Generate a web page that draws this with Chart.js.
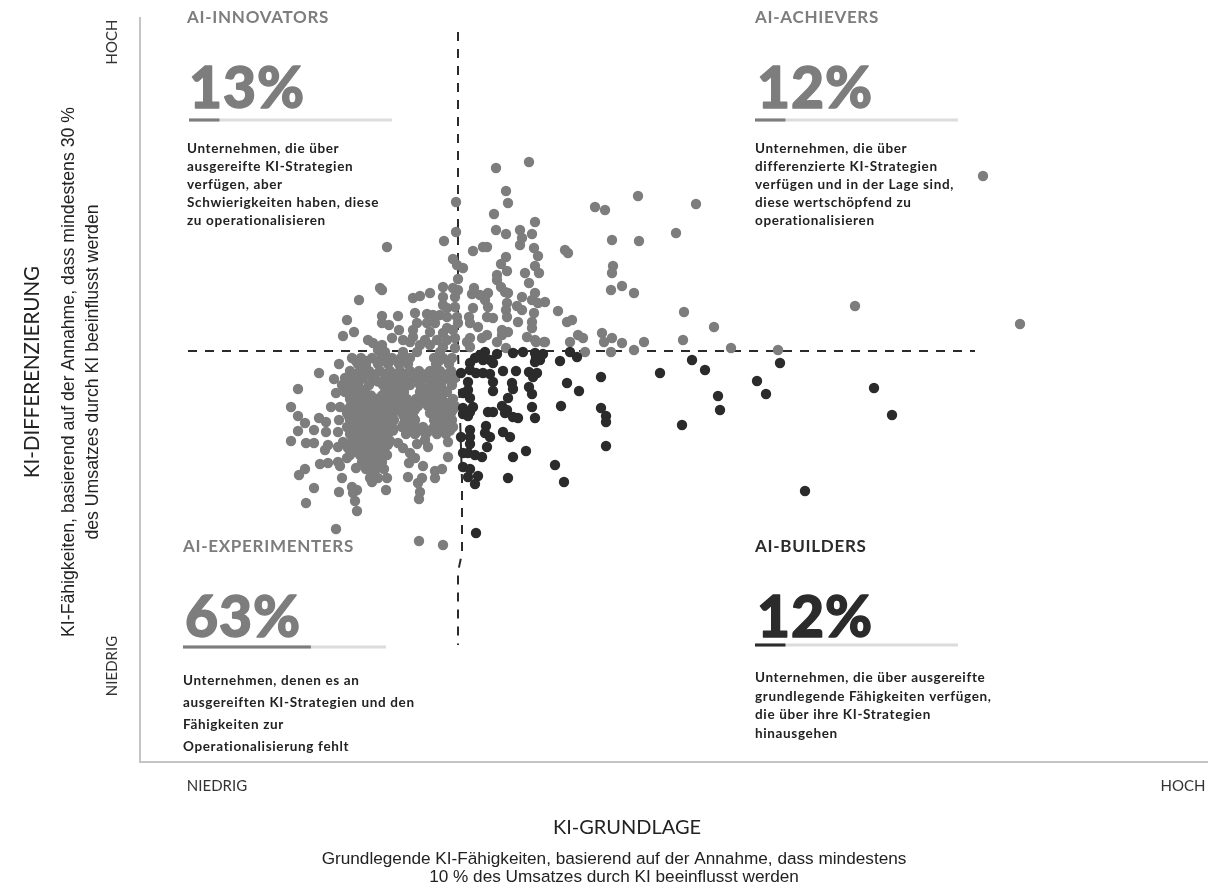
<!DOCTYPE html>
<html lang="de">
<head>
  <meta charset="UTF-8">
  <title>KI-Grundlage und KI-Differenzierung</title>
  <script src="https://cdn.jsdelivr.net/npm/chart.js"></script>
  <style>
    html, body { margin: 0; padding: 0; background: #fff; }
    canvas { display: block; filter: blur(0.4px); }
  </style>
</head>
<body>
  <canvas id="matrix" width="1228" height="889"></canvas>

  <script>
    // values: [KI-Grundlage, KI-Differenzierung]
    const innovators = [
      [31.6,56.0],[31.6,53.0],[30.4,52.1],[24.7,51.5],[24.2,47.2],[24.0,47.4],[21.9,46.2],[20.7,44.2],[21.4,43.0],[20.3,42.6],
      [29.0,46.9],[28.0,46.6],[27.3,46.4],[31.3,50.3],[31.7,49.7],[31.8,48.3],[30.3,47.5],[31.3,47.4],[31.8,47.2],[30.3,46.5],
      [30.3,45.7],[31.5,46.5],[31.5,45.5],[30.7,45.4],[25.8,44.6],[24.2,44.6],[24.2,43.9],[24.9,43.7],[25.9,43.2],[25.2,42.4],
      [27.5,44.9],[28.7,44.8],[29.3,44.7],[30.0,44.7],[30.7,44.5],[31.7,44.5],[31.8,43.9],[27.7,43.9],[28.7,43.9],[29.5,43.9],
      [30.7,43.4],[31.3,43.2],[27.3,43.2],[29.0,43.0],[30.3,42.9],[27.3,42.5],[26.3,42.2],[27.0,42.0],[28.5,42.2],[29.7,42.2],
      [30.7,42.2],[31.5,42.4],[22.8,42.2],[23.3,41.9],[24.2,41.7],[28.0,41.7],[29.0,41.7],[30.3,41.5],[31.5,41.4],[23.8,41.2],
      [24.5,41.0],[26.3,41.0],[27.7,41.0],[30.0,41.0]
    ];
    const achievers = [
      [35.6,59.4],[38.9,60.0],[36.6,57.1],[36.8,55.9],[35.4,54.8],[39.5,54.0],[35.6,53.2],[36.6,52.8],[38.0,53.2],[38.2,52.4],
      [38.0,51.7],[39.2,52.8],[33.3,51.1],[34.3,51.5],[34.7,51.5],[39.4,51.4],[39.8,50.6],[42.5,51.2],[42.8,50.9],[36.6,50.5],
      [36.1,49.8],[36.7,49.1],[35.7,48.7],[39.5,49.6],[39.9,48.9],[38.5,48.9],[38.9,47.9],[35.7,48.2],[36.1,47.5],[36.5,47.0],
      [36.8,46.9],[33.4,47.4],[33.2,46.8],[34.8,46.9],[34.0,46.7],[34.5,46.2],[34.8,45.5],[38.2,46.5],[39.5,46.9],[39.2,46.2],
      [39.8,45.9],[40.5,46.0],[36.7,45.9],[36.6,45.2],[37.7,45.6],[38.2,45.2],[33.3,45.4],[32.9,44.5],[33.0,43.9],[33.8,43.5],
      [34.7,44.5],[35.3,44.4],[36.7,44.5],[39.4,44.9],[39.2,44.0],[37.8,44.0],[41.8,45.1],[42.7,44.0],[39.2,43.4],[38.7,42.5],
      [39.5,42.2],[40.4,42.0],[36.2,43.2],[36.8,43.0],[36.2,42.7],[34.7,42.7],[34.2,42.4],[35.7,42.0],[33.0,42.4],[32.7,42.0],
      [33.0,41.5],[36.6,41.4],[45.5,55.5],[46.5,55.2],[47.2,52.2],[49.8,56.6],[49.9,52.1],[55.6,55.8],[53.6,52.9],[47.3,49.6],
      [47.2,48.9],[48.2,47.6],[49.4,46.9],[47.1,47.2],[54.4,45.0],[57.4,43.5],[54.3,42.2],[71.5,45.6],[84.3,58.6],[88.0,43.8],
      [59.1,41.4],[63.8,41.2],[46.2,42.9],[47.2,42.4],[48.2,41.9],[49.4,41.2],[46.4,42.0],[50.4,42.0],[47.1,41.0],[44.5,41.0],
      [39.6,42.0],[40.5,42.0],[43.0,42.0],[43.8,42.7],[43.2,44.2],[44.3,42.4],[32.3,49.4]
    ];
    const experimenters = [
      [19.9,39.8],[17.9,38.9],[15.8,37.3],[15.1,35.5],[15.8,34.6],[16.5,33.9],[15.8,33.1],[15.1,32.1],[16.6,31.9],[17.4,31.9],
      [17.4,33.2],[17.9,34.4],[18.6,34.0],[18.6,33.0],[19.4,38.3],[20.2,37.7],[19.6,36.9],[19.1,35.5],[20.0,35.5],[21.0,35.5],
      [19.9,34.2],[19.8,33.0],[18.8,31.7],[18.5,31.2],[19.8,31.5],[20.3,32.0],[18.0,29.8],[18.8,29.9],[19.8,30.0],[20.0,29.6],
      [16.5,29.3],[15.9,28.7],[20.7,30.4],[21.6,29.4],[20.2,28.4],[17.4,27.4],[19.9,27.0],[16.6,25.9],[21.2,27.5],[21.7,27.2],
      [21.3,26.9],[21.5,26.1],[21.7,25.1],[19.6,23.3],[24.6,27.2],[23.0,28.4],[23.2,28.0],[23.8,28.4],[24.7,28.4],[27.9,22.1],
      [30.3,21.7],[27.9,26.3],[28.0,27.0],[27.8,27.9],[28.2,28.4],[26.8,28.5],[29.5,28.4],[29.5,29.1],[30.2,29.3],[30.8,30.5],
      [28.3,29.6],[26.9,29.9],[27.5,30.4],[27.0,30.9],[26.3,31.4],[25.8,31.9],[27.7,31.8],[28.8,31.5],[28.5,32.2],[30.8,32.0],
      [21.2,40.4],[22.1,40.4],[23.2,40.4],[24.1,40.4],[25.2,40.4],[26.1,40.4],[27.0,40.4],[29.4,40.4],[30.3,40.4],[31.2,40.4],
      [21.8,39.8],[22.6,39.8],[23.8,39.8],[24.8,39.8],[25.9,39.8],[26.8,39.8],[29.6,39.8],[30.9,39.8],
      [21.0,39.1],[22.0,39.1],[22.9,39.1],[24.0,39.1],[25.0,39.1],[26.0,39.1],[27.0,39.1],[27.9,39.1],[29.0,39.1],[30.0,39.1],[31.1,39.1],
      [20.5,38.4],[21.4,38.4],[22.3,38.4],[23.3,38.4],[24.6,38.4],[25.6,38.4],[26.5,38.4],[27.6,38.4],[28.6,38.4],[29.6,38.4],[30.6,38.4],[31.5,38.4],
      [21.0,37.7],[21.8,37.7],[22.9,37.7],[24.3,37.7],[25.2,37.7],[26.2,37.7],[27.0,37.7],[28.0,37.7],[29.1,37.7],[30.1,37.7],[31.2,37.7],
      [20.5,37.0],[21.6,37.0],[22.5,37.0],[24.5,37.0],[25.4,37.0],[26.4,37.0],[28.0,37.0],[28.9,37.0],[29.7,37.0],[30.7,37.0],
      [21.0,36.3],[21.9,36.3],[22.8,36.3],[23.6,36.3],[24.7,36.3],[25.7,36.3],[26.7,36.3],[27.6,36.3],[28.5,36.3],[29.3,36.3],[30.2,36.3],[31.3,36.3],
      [21.5,35.6],[22.3,35.6],[23.2,35.6],[24.1,35.6],[25.0,35.6],[26.0,35.6],[27.0,35.6],[27.8,35.6],[28.8,35.6],[29.7,35.6],[30.7,35.6],[31.5,35.6],
      [20.7,34.9],[21.6,34.9],[22.5,34.9],[23.5,34.9],[24.4,34.9],[25.3,34.9],[26.2,34.9],[27.1,34.9],[29.0,34.9],[30.0,34.9],[31.1,34.9],
      [21.0,34.2],[22.0,34.2],[22.9,34.2],[23.8,34.2],[24.7,34.2],[25.4,34.2],[26.6,34.2],[27.5,34.2],[29.4,34.2],[30.3,34.2],[31.2,34.2],
      [20.7,33.5],[21.6,33.5],[22.5,33.5],[23.4,33.5],[24.3,33.5],[25.2,33.5],[26.2,33.5],[27.2,33.5],[28.3,33.5],[29.4,33.5],[30.4,33.5],[31.3,33.5],
      [21.0,32.8],[22.0,32.8],[22.9,32.8],[23.9,32.8],[24.8,32.8],[26.6,32.8],[27.5,32.8],[28.6,32.8],[29.7,32.8],[30.6,32.8],
      [21.2,32.1],[22.2,32.1],[23.1,32.1],[24.1,32.1],[25.0,32.1],[20.8,31.4],[21.7,31.4],[22.7,31.4],[23.6,31.4],[24.5,31.4],
      [21.0,30.7],[22.0,30.7],[23.0,30.7],[24.0,30.7],[24.7,30.7],[22.2,30.0],[23.2,30.0],[24.2,30.0],[22.6,29.3],[23.6,29.3],[24.4,29.3],
      [21.6,40.1],[22.6,40.1],[23.7,40.1],[24.6,40.1],[25.7,40.1],[26.6,40.1],[29.9,40.1],[30.8,40.1],
      [21.5,38.75],[22.4,38.75],[23.5,38.75],[24.5,38.75],[25.5,38.75],[26.5,38.75],[27.5,38.75],[28.5,38.75],[29.5,38.75],[30.5,38.75],
      [20.9,38.05],[21.9,38.05],[23.8,38.05],[25.0,38.05],[26.0,38.05],[27.0,38.05],[28.1,38.05],[29.1,38.05],[30.1,38.05],[31.1,38.05],
      [21.1,37.35],[22.0,37.35],[24.9,37.35],[25.9,37.35],[28.4,37.35],[29.3,37.35],[30.2,37.35],
      [21.3,36.65],[22.2,36.65],[23.1,36.65],[24.2,36.65],[25.2,36.65],[26.2,36.65],[28.2,36.65],[29.1,36.65],[30.0,36.65],
      [21.4,35.95],[22.3,35.95],[23.2,35.95],[24.2,35.95],[25.2,35.95],[26.2,35.95],[27.3,35.95],[28.1,35.95],[29.0,35.95],[30.0,35.95],[31.0,35.95],
      [21.1,35.25],[22.0,35.25],[23.0,35.25],[23.9,35.25],[24.8,35.25],[25.7,35.25],[26.6,35.25],[27.5,35.25],[29.3,35.25],[30.3,35.25],[31.3,35.25],
      [20.9,34.55],[21.8,34.55],[22.7,34.55],[23.7,34.55],[24.6,34.55],[26.4,34.55],[27.3,34.55],[29.7,34.55],[30.7,34.55],
      [21.3,33.85],[22.2,33.85],[23.1,33.85],[24.0,33.85],[25.0,33.85],[26.4,33.85],[27.4,33.85],[29.7,33.85],[30.8,33.85],
      [21.4,33.15],[22.4,33.15],[23.3,33.15],[24.3,33.15],[25.3,33.15],[26.9,33.15],[28.0,33.15],[29.0,33.15],[30.0,33.15],[31.0,33.15],
      [21.5,32.45],[22.5,32.45],[23.5,32.45],[24.5,32.45],[21.0,31.75],[22.1,31.75],[23.0,31.75],[24.0,31.75],[24.8,31.75],
      [21.3,31.05],[22.3,31.05],[23.3,31.05],[24.2,31.05],[22.6,30.35],[23.6,30.35],[22.9,29.65],[23.9,29.65],[23.3,28.95]
    ];
    const builders = [
      [34.5,41.0],[34.0,40.7],[35.7,40.8],[37.3,40.9],[38.3,41.0],[39.5,40.9],[40.3,40.8],[39.6,40.4],[40.0,40.2],[39.5,40.0],
      [43.0,41.0],[43.7,40.5],[42.0,40.1],[33.0,39.9],[35.0,40.2],[35.3,39.9],[34.3,40.2],[33.5,40.4],[33.0,39.2],[33.6,38.9],
      [34.3,38.9],[35.0,38.8],[32.1,38.9],[36.3,39.1],[37.6,39.1],[38.9,39.0],[39.7,38.9],[39.3,38.5],[42.7,37.9],[43.9,37.1],
      [46.1,38.5],[35.3,38.0],[35.3,37.1],[37.2,37.9],[37.3,37.3],[38.9,37.5],[39.2,36.8],[32.8,38.0],[32.8,37.2],[32.3,36.9],
      [33.0,36.4],[36.8,36.4],[36.2,35.6],[36.7,35.2],[36.5,34.9],[37.3,34.5],[37.8,34.4],[34.8,35.0],[35.3,35.0],[33.3,35.5],
      [32.3,35.4],[33.0,35.0],[32.3,34.8],[32.8,34.6],[39.2,35.5],[39.5,34.4],[42.1,35.6],[46.1,35.4],[46.6,34.6],[46.6,34.0],
      [46.6,31.6],[34.6,33.6],[34.5,32.9],[35.0,32.5],[36.3,33.0],[37.0,32.5],[33.0,33.2],[33.0,32.5],[32.1,32.5],[33.0,31.8],
      [34.7,31.5],[38.6,31.1],[37.3,30.5],[32.8,30.9],[33.5,30.7],[34.2,30.5],[32.3,30.9],[32.3,29.5],[33.0,29.3],[33.8,28.6],
      [32.8,28.5],[33.5,27.8],[36.8,28.4],[41.5,29.7],[42.4,28.0],[33.6,22.9],[52.0,38.9],[55.2,40.2],[56.5,39.2],[57.8,36.6],
      [58.0,35.2],[54.2,33.7],[61.7,38.1],[62.6,36.8],[64.0,39.9],[73.4,37.4],[75.2,34.7],[66.5,27.1]
    ];

    // the two dashed quadrant dividers
    const splitX = [4.8, 83.5];
    const splitY = [41.1, 41.1];
    const divideX = [31.8, 31.8, 32.2, 32.2, 31.8, 31.8];
    const divideY = [73.0, 41.1, 28.2, 20.9, 19.0, 11.7];

    const xTickValues = [7.7, 104.3];
    const xTickLabels = ["NIEDRIG", "HOCH"];
    const yTickValues = [9.6, 72.0];
    const yTickLabels = ["NIEDRIG", "HOCH"];

    const cardNames = ["AI-INNOVATORS", "AI-ACHIEVERS", "AI-EXPERIMENTERS", "AI-BUILDERS"];
    const cardShares = ["13%", "12%", "63%", "12%"];
    const cardBars = [15, 15, 63, 15];
    const cardTexts = [
      ["Unternehmen, die über", "ausgereifte KI-Strategien", "verfügen, aber", "Schwierigkeiten haben, diese", "zu operationalisieren"],
      ["Unternehmen, die über", "differenzierte KI-Strategien", "verfügen und in der Lage sind,", "diese wertschöpfend zu", "operationalisieren"],
      ["Unternehmen, denen es an", "ausgereiften KI-Strategien und den", "Fähigkeiten zur", "Operationalisierung fehlt"],
      ["Unternehmen, die über ausgereifte", "grundlegende Fähigkeiten verfügen,", "die über ihre KI-Strategien", "hinausgehen"]
    ];

    const xTitle = "KI-GRUNDLAGE";
    const xSubtitle = ["Grundlegende KI-Fähigkeiten, basierend auf der Annahme, dass mindestens", "10 % des Umsatzes durch KI beeinflusst werden"];
    const yTitle = "KI-DIFFERENZIERUNG";
    const ySubtitle = ["KI-Fähigkeiten, basierend auf der Annahme, dass mindestens 30 %", "des Umsatzes durch KI beeinflusst werden"];

    const GRAY = "#7d7d7d";
    const DARK = "#2b2b2b";
    const cardColors = [GRAY, GRAY, GRAY, DARK];
    const cardBoxes = [
      { x: 187, name: 23, share: 108, bar: 120, barX: 189, text: 153, lead: 18 },
      { x: 755, name: 23, share: 108, bar: 120, barX: 755, text: 153, lead: 18 },
      { x: 183, name: 552, share: 637, bar: 647, barX: 183, text: 685, lead: 22 },
      { x: 755, name: 552, share: 637, bar: 645, barX: 755, text: 682, lead: 18.5 }
    ];

    function toPoints(pairs) {
      return pairs.map(p => ({ x: p[0], y: p[1] }));
    }

    function zipPoints(xs, ys) {
      return xs.map((x, i) => ({ x: x, y: ys[i] }));
    }

    function dots(label, pairs, color, order) {
      return {
        label: label,
        data: toPoints(pairs),
        backgroundColor: color,
        borderWidth: 0,
        pointRadius: 5.2,
        order: order
      };
    }

    function dashes(data) {
      return {
        type: "line",
        data: data,
        borderColor: DARK,
        borderWidth: 2,
        borderDash: [9, 8],
        pointRadius: 0,
        tension: 0,
        order: 9
      };
    }

    function drawCard(ctx, i) {
      const box = cardBoxes[i];
      const color = cardColors[i];
      ctx.textAlign = "left";
      ctx.textBaseline = "alphabetic";

      ctx.fillStyle = color;
      ctx.letterSpacing = "0.7px";
      ctx.font = "700 17px Lato";
      ctx.fillText(cardNames[i], box.x, box.name);

      // the numbers are heavier in the picture than the font alone gives
      ctx.letterSpacing = "1px";
      ctx.font = "900 57px Lato";
      ctx.strokeStyle = color;
      ctx.lineWidth = 1.4;
      ctx.lineJoin = "round";
      ctx.fillText(cardShares[i], box.x + 2, box.share);
      ctx.strokeText(cardShares[i], box.x + 2, box.share);

      ctx.fillStyle = "#dcdcdc";
      ctx.fillRect(box.barX, box.bar - 1.5, 203, 3);
      ctx.fillStyle = color;
      ctx.fillRect(box.barX, box.bar - 1.5, 203 * cardBars[i] / 100, 3);

      ctx.fillStyle = "#222";
      ctx.letterSpacing = "0.65px";
      ctx.font = "700 13.5px Lato";
      cardTexts[i].forEach((line, n) => {
        ctx.fillText(line, box.x, box.text + n * box.lead);
      });
      ctx.letterSpacing = "0px";
    }

    const textPlugin = {
      id: "matrixText",
      afterDraw(chart) {
        const ctx = chart.ctx;
        ctx.save();
        cardNames.forEach((_, i) => drawCard(ctx, i));

        ctx.fillStyle = "#222";
        ctx.textAlign = "center";
        ctx.font = "400 20px Lato";
        ctx.fillText(xTitle, 627, 834);
        ctx.font = "400 17.2px 'Liberation Sans'";
        ctx.fillText(xSubtitle[0], 614, 864);
        ctx.fillText(xSubtitle[1], 614, 882);

        ctx.translate(0, 372);
        ctx.rotate(-Math.PI / 2);
        ctx.font = "400 20.5px Lato";
        ctx.fillText(yTitle, 0, 39);
        ctx.font = "400 17.7px 'Liberation Sans'";
        ctx.fillText(ySubtitle[0], 0, 74);
        ctx.fillText(ySubtitle[1], 0, 98);
        ctx.restore();
      }
    };

    new Chart(document.getElementById("matrix").getContext("2d"), {
      type: "scatter",
      data: {
        datasets: [
          dots("AI-Builders", builders, DARK, 1),
          dots("AI-Achievers", achievers, GRAY, 2),
          dots("AI-Innovators", innovators, GRAY, 3),
          dots("AI-Experimenters", experimenters, GRAY, 4),
          dashes(zipPoints(splitX, splitY)),
          dashes(zipPoints(divideX, divideY))
        ]
      },
      options: {
        responsive: false,
        animation: false,
        layout: { padding: { left: 80, right: 21, top: 18, bottom: 87 } },
        plugins: { legend: { display: false }, tooltip: { enabled: false } },
        scales: {
          x: {
            type: "linear",
            min: 0,
            max: 106.7,
            grid: { display: false, drawTicks: false },
            border: { color: "#c4c4c4", width: 2 },
            afterBuildTicks(scale) { scale.ticks = xTickValues.map(v => ({ value: v })); },
            afterFit(scale) {
              scale.height = 40;
              scale.paddingLeft = 0;
              scale.paddingRight = 0;
            },
            ticks: {
              autoSkip: false,
              maxRotation: 0,
              padding: 15,
              color: "#333",
              font: { family: "Lato", size: 15 },
              callback: (v, i) => xTickLabels[i]
            }
          },
          y: {
            type: "linear",
            min: 0,
            max: 74.4,
            grid: { display: false, drawTicks: false },
            border: { color: "#c4c4c4", width: 2 },
            afterBuildTicks(scale) { scale.ticks = yTickValues.map(v => ({ value: v })); },
            afterFit(scale) {
              scale.width = 60;
              scale.paddingTop = 0;
              scale.paddingBottom = 0;
            },
            ticks: {
              autoSkip: false,
              minRotation: 90,
              maxRotation: 90,
              crossAlign: "center",
              padding: -2,
              color: "#333",
              font: { family: "Lato", size: 15 },
              callback: (v, i) => yTickLabels[i]
            }
          }
        }
      },
      plugins: [textPlugin]
    });
  </script>
</body>
</html>
